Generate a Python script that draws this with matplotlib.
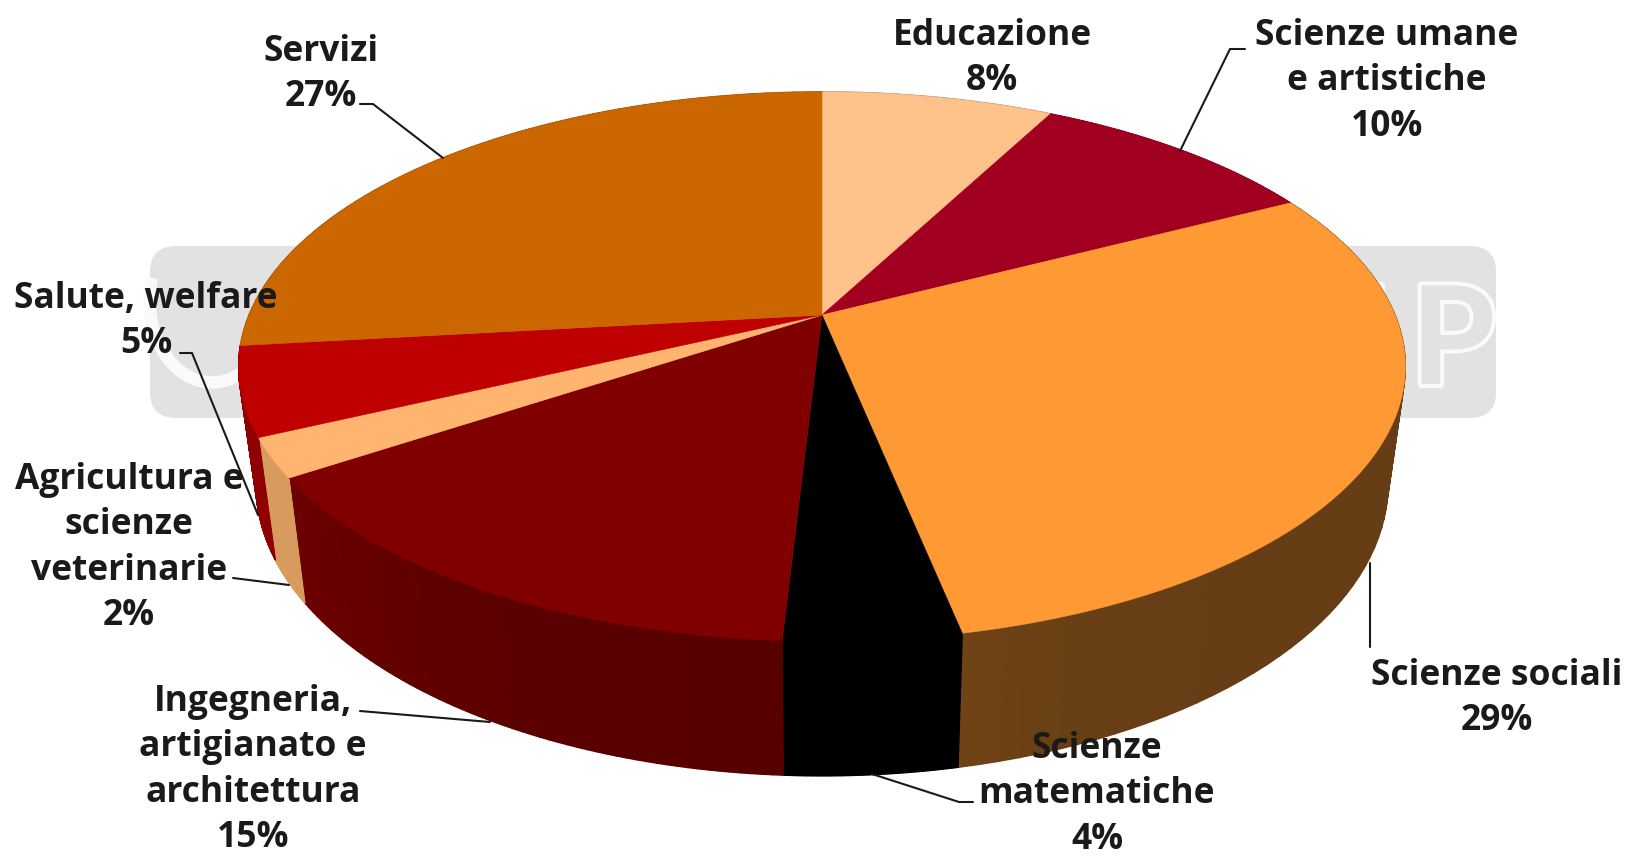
import numpy as np
import matplotlib
matplotlib.use("Agg")
import matplotlib.pyplot as plt
import matplotlib.patheffects as pe
from matplotlib.collections import PolyCollection
from matplotlib.patches import Arc, FancyBboxPatch, Polygon

# slices, clockwise from the top of the pie (shares, labels round them)
categories = ["Educazione", "Scienze umane\ne artistiche", "Scienze sociali",
              "Scienze\nmatematiche", "Ingegneria,\nartigianato e\narchitettura",
              "Agricultura e\nscienze\nveterinarie", "Salute, welfare", "Servizi"]
values = [7.7, 9.7, 29.4, 4.1, 14.8, 2.3, 5.2, 26.8]
top_colors = ["#FFC28A", "#A10021", "#FF9933", "#000000", "#800000", "#FFB56F", "#BF0000", "#CC6600"]
wall_shade_start = [0.7, 0.7, 0.40, 1.0, 0.68, 0.85, 0.75, 0.7]
wall_shade_end = [0.7, 0.7, 0.44, 1.0, 0.85, 0.85, 0.75, 0.7]
wall_shade_power = [1, 1, 12, 1, 2, 1, 1, 1]

# text centre of the first line, and leader line in pixels
label_pos = [(992, 32), (1387, 32), (1497, 672), (1097, 745), (253, 698),
             (129, 476), (146, 295), (321, 48)]
leaders = [None,
           [(1245, 49), (1230, 49), (1180, 151)],
           [(1370, 563), (1370, 647)],
           [(872, 774), (959, 802), (973, 802)],
           [(360, 711), (490, 722)],
           [(233, 578), (289, 585)],
           [(180, 353), (192, 353), (258, 515)],
           [(360, 104), (373, 104), (443, 158)]]

WIDTH, HEIGHT = 1634, 857
HUB_X, HUB_Y = 822, 315
RX, RY, PERSP = 573, 265, 0.1878
WALL_DX, WALL_DY, WALL_DROP = 0.97, 1.06, 115
FONT = "Open Sans"


def top_xy(frac):
    # position on the rim of the top face, frac = share of the pie from 12 o'clock
    a = 2 * np.pi * np.asarray(frac)
    w = 1 + PERSP * np.cos(a)
    return HUB_X + RX * np.sin(a) / w, HUB_Y - RY * np.cos(a) / w


def bottom_xy(frac):
    x, y = top_xy(frac)
    return HUB_X + WALL_DX * (x - HUB_X), HUB_Y + WALL_DROP + WALL_DY * (y - HUB_Y)


def shade(color, k):
    return tuple(c * k for c in matplotlib.colors.to_rgb(color))


fig = plt.figure(figsize=(WIDTH / 100, HEIGHT / 100), dpi=100)
ax = fig.add_axes([0, 0, 1, 1])
ax.set_xlim(0, WIDTH)
ax.set_ylim(HEIGHT, 0)
ax.axis("off")

# watermark behind the chart
ax.add_patch(FancyBboxPatch((168, 264), 1310, 136, boxstyle="round,pad=18,rounding_size=26",
                            fc="#E2E2E2", ec="none", zorder=1))
ax.add_patch(Arc((212, 300), 125, 165, theta1=10, theta2=200, ec="#FAFAFA", lw=9, zorder=2))
for s, x in [("U", 1340), ("P", 1453)]:
    ax.text(x, 345, s, ha="center", va="center", fontsize=98, fontweight="bold", family="Lato",
            color="#E2E2E2", zorder=2,
            path_effects=[pe.withStroke(linewidth=6, foreground="#FAFAFA"), pe.Normal()])

edges = np.concatenate([[0], np.cumsum(values)]) / sum(values)

# side walls first, the top face covers whatever faces away
for i in range(len(values)):
    fr = np.linspace(edges[i], edges[i + 1], 60)
    tx, ty = top_xy(fr)
    bx, by = bottom_xy(fr)
    front = np.mean(np.cos(2 * np.pi * fr)) < 0
    z = 4 if front else 3
    band = np.column_stack([np.r_[tx, bx[::-1]], np.r_[ty, by[::-1]]])
    ax.add_patch(Polygon(band, closed=True, fc=shade(top_colors[i], wall_shade_start[i]), ec="none", zorder=z))
    quads, colors = [], []
    for j in range(len(fr) - 1):
        quads.append([(tx[j], ty[j]), (tx[j + 1], ty[j + 1]), (bx[j + 1], by[j + 1]), (bx[j], by[j])])
        t = j / (len(fr) - 2)
        k = wall_shade_start[i] + (wall_shade_end[i] - wall_shade_start[i]) * t ** wall_shade_power[i]
        colors.append(shade(top_colors[i], k))
    ax.add_collection(PolyCollection(quads, facecolors=colors, edgecolors=colors, linewidths=1.0, zorder=z))

# top face
for i in range(len(values)):
    fr = np.linspace(edges[i], edges[i + 1], 200)
    x, y = top_xy(fr)
    pts = np.column_stack([np.r_[HUB_X, x], np.r_[HUB_Y, y]])
    ax.add_patch(Polygon(pts, closed=True, fc=top_colors[i], ec=top_colors[i], lw=0.4, zorder=5))

# labels
for name, v, (x, y), lead in zip(categories, values, label_pos, leaders):
    if lead:
        ax.plot(*zip(*lead), color="#1a1a1a", lw=1.5, zorder=6, solid_capstyle="round")
    ax.text(x, y - 14, f"{name}\n{v:.0f}%", ha="center", va="top", fontsize=25.5, fontweight="bold",
            family=FONT, color="#1a1a1a", linespacing=1.35, zorder=7)

fig.savefig("out.png", dpi=100)
